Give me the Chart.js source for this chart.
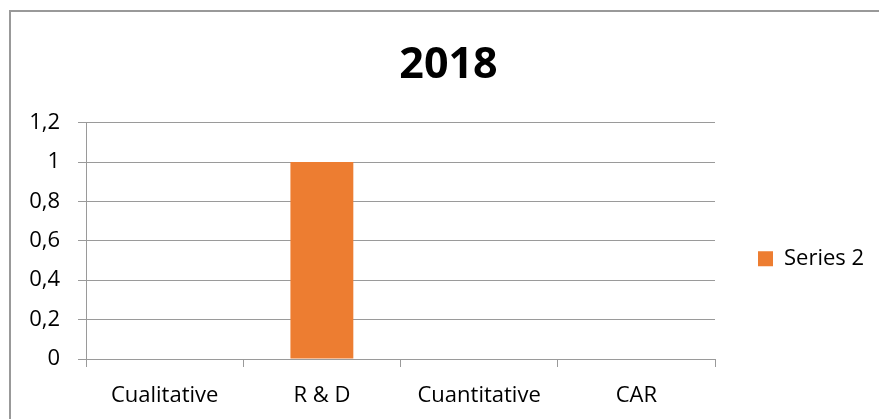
<!DOCTYPE html>
<html>
<head>
<meta charset="utf-8">
<script src="https://cdn.jsdelivr.net/npm/chart.js@4/dist/chart.umd.min.js"></script>
<style>
  html, body { margin: 0; padding: 0; background: #fff; overflow: hidden; }
  #wrap { position: relative; width: 879px; height: 419px; }
  #frame { position: absolute; left: 9px; top: 10px; width: 900px; height: 440px;
           border: 2px solid #999; box-sizing: border-box; pointer-events: none; }
  canvas { position: absolute; left: 0; top: 0; }
</style>
</head>
<body>
<div id="wrap">
  <canvas id="chart" width="879" height="419"></canvas>
  <div id="frame"></div>
</div>
<script>
// Chart content
const chartTitle = '2018';
const categories = ['Cualitative', 'R & D', 'Cuantitative', 'CAR'];
const seriesName = 'Series 2';
const seriesValues = [0, 1, 0, 0];
const yTickValues = [0, 0.2, 0.4, 0.6, 0.8, 1, 1.2];
const yTickLabels = ['0', '0,2', '0,4', '0,6', '0,8', '1', '1,2'];

const FONT = "'Open Sans', 'Liberation Sans', sans-serif";
const GRID = '#9a9a9a';

new Chart(document.getElementById('chart'), {
  type: 'bar',
  data: {
    labels: categories,
    datasets: [{
      label: seriesName,
      data: seriesValues,
      backgroundColor: '#ED7D31',
      borderWidth: 0,
      barPercentage: 0.4,
      categoryPercentage: 1.0
    }]
  },
  options: {
    responsive: false,
    animation: false,
    devicePixelRatio: 1,
    layout: { padding: { left: 26, right: 8, top: 0, bottom: 0 } },
    plugins: {
      title: {
        display: true,
        text: chartTitle,
        color: '#000',
        font: { family: FONT, size: 43, weight: 'bold', lineHeight: 1.2 },
        padding: { top: 40, bottom: 31 }
      },
      legend: {
        display: true,
        position: 'right',
        align: 'center',
        fullSize: false,
        maxWidth: 156,
        title: { display: true, text: '', padding: 0, font: { size: 30, lineHeight: 1.2 } },
        labels: {
          boxWidth: 15,
          boxHeight: 15,
          padding: 43,
          color: '#000',
          font: { family: FONT, size: 22 }
        }
      },
      tooltip: { enabled: false }
    },
    scales: {
      x: {
        offset: true,
        grid: {
          offset: true,
          display: true,
          drawOnChartArea: false,
          drawTicks: true,
          tickLength: 8,
          color: GRID,
          lineWidth: 1
        },
        border: { display: true, color: GRID, width: 1 },
        ticks: {
          color: '#000',
          padding: 16,
          maxRotation: 0,
          font: { family: FONT, size: 22 }
        },
        afterFit: (scale) => { scale.height = 60; }
      },
      y: {
        min: 0,
        max: 1.2,
        afterBuildTicks: (scale) => { scale.ticks = yTickValues.map(v => ({ value: v })); },
        grid: {
          color: GRID,
          lineWidth: 1,
          drawTicks: true,
          tickLength: 8
        },
        border: { display: true, color: GRID, width: 1 },
        ticks: {
          color: '#000',
          padding: 18,
          font: { family: FONT, size: 22 },
          callback: (value, index) => yTickLabels[index]
        },
        afterFit: (scale) => { scale.width = 60; }
      }
    }
  }
});
</script>
</body>
</html>
